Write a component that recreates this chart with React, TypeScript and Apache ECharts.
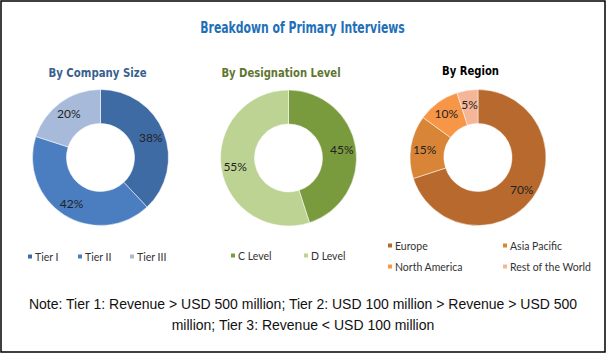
import React, { useEffect, useRef } from "react";
import * as echarts from "echarts";

const sizeCategories = ["Tier I", "Tier II", "Tier III"];
const sizeValues = [38, 42, 20];
const designationCategories = ["C Level", "D Level"];
const designationValues = [45, 55];
const regionCategories = ["Europe", "Asia Pacific", "North America", "Rest of the World"];
const regionValues = [70, 15, 10, 5];

const mainTitle = "Breakdown of Primary Interviews";
const subTitles = ["By Company Size", "By Designation Level", "By Region"];
const noteLines = [
  "Note: Tier 1: Revenue > USD 500 million; Tier 2: USD 100 million > Revenue > USD 500",
  "million; Tier 3: Revenue < USD 100 million",
];

const sizeColors = ["#3F6BA5", "#4A7EC0", "#A8BAD9"];
const designationColors = ["#7A9A3E", "#BDD393"];
const regionColors = ["#B8692E", "#D98538", "#F79646", "#F5B597"];

const titleFont = "'DejaVu Sans Condensed', 'DejaVu Sans', sans-serif";
const bodyFont = "Lato, 'Open Sans', sans-serif";

export default function App() {
  const ref = useRef<HTMLDivElement>(null);
  useEffect(() => {
    document.body.style.margin = "0";
    const chart = echarts.init(ref.current!, null, { renderer: "svg" });

    const makePie = (name: string, cats: string[], vals: number[], colors: string[], cx: number, cy: number) => ({
      type: "pie",
      name,
      center: [cx, cy],
      radius: [34, 68],
      startAngle: 90,
      clockwise: true,
      avoidLabelOverlap: false,
      label: {
        show: true,
        position: "inside",
        formatter: "{c}%",
        color: "#222",
        fontFamily: bodyFont,
        fontSize: 12,
      },
      labelLine: { show: false },
      itemStyle: { borderColor: "#ffffff", borderWidth: 0.5 },
      emphasis: { disabled: true },
      data: cats.map((c, i) => ({ name: c, value: vals[i], itemStyle: { color: colors[i] } })),
    });

    const legendItem = (name: string, left: number, top: number) => ({
      data: [name],
      left,
      top,
      icon: "rect",
      itemWidth: 6,
      itemHeight: 6,
      itemGap: 4,
      padding: 0,
      selectedMode: false,
      textStyle: { fontFamily: bodyFont, fontSize: 10.5, color: "#333", padding: [0, 0, 0, -3] },
    });

    const titleText = (text: string, x: number, y: number, size: number, color: string, scaleX: number) => ({
      type: "text",
      x,
      y,
      scaleX,
      silent: true,
      style: {
        text,
        fontFamily: titleFont,
        fontWeight: "bold",
        fontSize: size,
        fill: color,
        align: "center",
        verticalAlign: "middle",
      },
    });

    const noteText = (text: string, y: number) => ({
      type: "text",
      x: 303,
      y,
      silent: true,
      style: {
        text,
        fontFamily: "'Liberation Sans', Arial, sans-serif",
        fontSize: 14,
        fill: "#111",
        align: "center",
        verticalAlign: "middle",
      },
    });

    chart.setOption({
      animation: false,
      backgroundColor: "#ffffff",
      legend: [
        legendItem(sizeCategories[0], 26, 251),
        legendItem(sizeCategories[1], 76, 251),
        legendItem(sizeCategories[2], 128, 251),
        legendItem(designationCategories[0], 229, 250),
        legendItem(designationCategories[1], 302, 250),
        legendItem(regionCategories[0], 386, 240),
        legendItem(regionCategories[1], 501, 240),
        legendItem(regionCategories[2], 386, 261),
        legendItem(regionCategories[3], 501, 261),
      ],
      series: [
        makePie(subTitles[0], sizeCategories, sizeValues, sizeColors, 100.5, 157.5),
        makePie(subTitles[1], designationCategories, designationValues, designationColors, 288.5, 158),
        makePie(subTitles[2], regionCategories, regionValues, regionColors, 478, 157.5),
      ],
      graphic: [
        {
          type: "rect",
          shape: { x: 1, y: 1, width: 604, height: 351 },
          style: { fill: "none", stroke: "#000000", lineWidth: 1.5 },
          silent: true,
        },
        titleText(mainTitle, 302.5, 27, 15.5, "#1F70B8", 0.78),
        titleText(subTitles[0], 97.5, 73, 13, "#3A5F8F", 0.87),
        titleText(subTitles[1], 281, 73, 13, "#5F7530", 0.86),
        titleText(subTitles[2], 470.5, 71, 13, "#000000", 0.86),
        noteText(noteLines[0], 304),
        noteText(noteLines[1], 325),
      ],
    });
    return () => chart.dispose();
  }, []);
  return <div ref={ref} style={{ position: "absolute", left: 0, top: 0, width: 607, height: 354 }} />;
}
